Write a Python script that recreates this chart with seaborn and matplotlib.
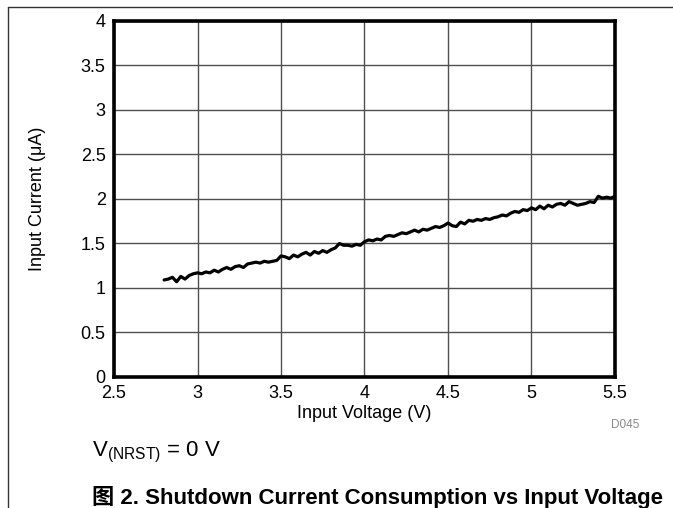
#!/usr/bin/env python3

import numpy as np
import pandas as pd
import matplotlib.pyplot as plt
from matplotlib.lines import Line2D
import seaborn as sns

SET_DPI = 100
FIGSIZE = (6.73, 5.08)

# input voltage sweep (V)
VOLTAGE = [
    2.800, 2.825, 2.850, 2.875, 2.900, 2.925, 2.950, 2.975,
    3.000, 3.025, 3.050, 3.075, 3.100, 3.125, 3.150, 3.175,
    3.200, 3.225, 3.250, 3.275, 3.300, 3.325, 3.350, 3.375,
    3.400, 3.425, 3.450, 3.475, 3.500, 3.525, 3.550, 3.575,
    3.600, 3.625, 3.650, 3.675, 3.700, 3.725, 3.750, 3.775,
    3.800, 3.825, 3.850, 3.875, 3.900, 3.925, 3.950, 3.975,
    4.000, 4.025, 4.050, 4.075, 4.100, 4.125, 4.150, 4.175,
    4.200, 4.225, 4.250, 4.275, 4.300, 4.325, 4.350, 4.375,
    4.400, 4.425, 4.450, 4.475, 4.500, 4.525, 4.550, 4.575,
    4.600, 4.625, 4.650, 4.675, 4.700, 4.725, 4.750, 4.775,
    4.800, 4.825, 4.850, 4.875, 4.900, 4.925, 4.950, 4.975,
    5.000, 5.025, 5.050, 5.075, 5.100, 5.125, 5.150, 5.175,
    5.200, 5.225, 5.250, 5.275, 5.300, 5.325, 5.350, 5.375,
    5.400, 5.425, 5.450, 5.475, 5.500,
]

# shutdown input current (uA)
CURRENT = [
    1.09, 1.10, 1.12, 1.07, 1.13, 1.10, 1.14, 1.16,
    1.17, 1.16, 1.18, 1.17, 1.20, 1.18, 1.21, 1.23,
    1.21, 1.24, 1.25, 1.23, 1.27, 1.28, 1.29, 1.28,
    1.30, 1.29, 1.30, 1.31, 1.36, 1.35, 1.33, 1.37,
    1.35, 1.38, 1.40, 1.37, 1.41, 1.39, 1.42, 1.40,
    1.43, 1.45, 1.50, 1.48, 1.48, 1.47, 1.49, 1.48,
    1.52, 1.54, 1.53, 1.55, 1.54, 1.58, 1.59, 1.58,
    1.60, 1.62, 1.61, 1.63, 1.65, 1.63, 1.66, 1.65,
    1.67, 1.69, 1.68, 1.70, 1.73, 1.70, 1.69, 1.74,
    1.72, 1.76, 1.75, 1.77, 1.76, 1.78, 1.77, 1.79,
    1.80, 1.82, 1.81, 1.84, 1.86, 1.85, 1.88, 1.87,
    1.90, 1.88, 1.92, 1.89, 1.93, 1.91, 1.94, 1.95,
    1.93, 1.97, 1.95, 1.93, 1.94, 1.95, 1.97, 1.96,
    2.03, 2.01, 2.02, 2.01, 2.03,
]

X_TICKS = [2.5, 3, 3.5, 4, 4.5, 5, 5.5]
X_TICKLABELS = ['2.5', '3', '3.5', '4', '4.5', '5', '5.5']
Y_TICKS = [0, 0.5, 1, 1.5, 2, 2.5, 3, 3.5, 4]
Y_TICKLABELS = ['0', '0.5', '1', '1.5', '2', '2.5', '3', '3.5', '4']

FONT = 'Liberation Sans'
FS = 13


def main():
    sns.set_theme(style='white')
    plt.rcParams['font.family'] = [FONT, 'Noto Sans CJK SC', 'DejaVu Sans']
    plt.rcParams['mathtext.fontset'] = 'custom'
    plt.rcParams['mathtext.rm'] = FONT
    plt.rcParams['mathtext.it'] = FONT

    data = pd.DataFrame({'voltage': VOLTAGE, 'current': CURRENT})

    fig = plt.figure(figsize=FIGSIZE, dpi=SET_DPI)
    ax = fig.add_axes([0.1694, 0.2579, 0.7444, 0.7008])

    sns.lineplot(data=data, x='voltage', y='current', color='black',
                 linewidth=2.3, ax=ax, zorder=3)

    ax.set_xlim(2.5, 5.5)
    ax.set_ylim(0, 4)
    ax.set_xticks(X_TICKS, X_TICKLABELS)
    ax.set_yticks(Y_TICKS, Y_TICKLABELS)
    ax.tick_params(length=0, labelsize=FS, colors='black')
    ax.tick_params(axis='x', pad=6)
    ax.tick_params(axis='y', pad=6)
    ax.grid(True, color='#505050', linewidth=1.0)
    for side in ax.spines.values():
        side.set_visible(True)
        side.set_color('black')
        side.set_linewidth(2.6)

    ax.set_xlabel('Input Voltage (V)', fontsize=FS, color='black', labelpad=2)
    ax.set_ylabel('Input Current (\u03bcA)', fontsize=FS, color='black',
                  labelpad=25)

    fig.text(625 / 673, 1 - 425 / 508, 'D045', fontsize=8.5, color='#888888',
             ha='center', va='center')
    fig.text(92 / 673, 1 - 452 / 508, r'V$_{\mathregular{(NRST)}}$ = 0 V',
             fontsize=16, color='black', ha='left', va='center')
    fig.text(92 / 673, 1 - 497 / 508,
             '\u56fe 2. Shutdown Current Consumption vs Input Voltage',
             fontsize=16, fontweight='bold', color='black',
             ha='left', va='center')

    # page frame
    fig.add_artist(Line2D([8 / 673, 8 / 673], [0, 1 - 7 / 508],
                          color='#333333', linewidth=1.0))
    fig.add_artist(Line2D([8 / 673, 1], [1 - 7 / 508, 1 - 7 / 508],
                          color='#333333', linewidth=1.0))

    plt.savefig('out.png', dpi=SET_DPI)
    plt.close('all')


if __name__ == '__main__':
    main()
